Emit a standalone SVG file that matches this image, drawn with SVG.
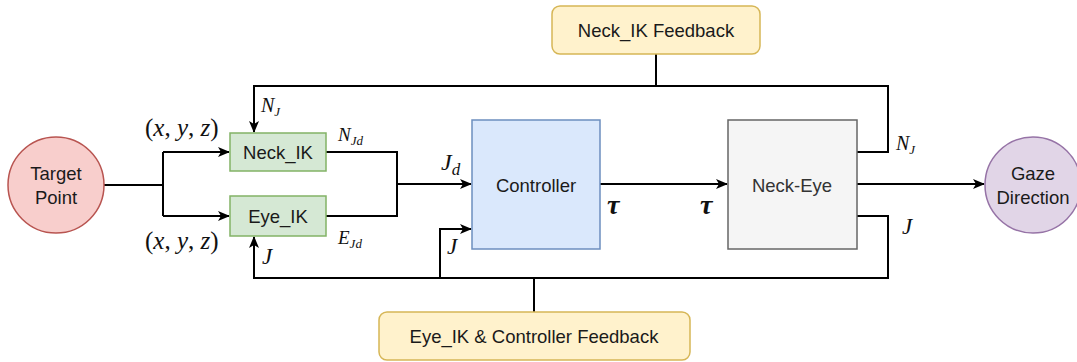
<svg xmlns="http://www.w3.org/2000/svg" width="1077" height="362" viewBox="0 0 1077 362">
  <style>
    .lbl { font-family: "Liberation Sans", Arial, sans-serif; font-size: 18.5px; fill: #1a1a1a; text-anchor: middle; dominant-baseline: central; }
    .math { font-family: "Liberation Serif", "DejaVu Serif", serif; font-style: italic; fill: #111; }
    .edge { fill: none; stroke: #000; stroke-width: 2; }
    .ik { fill: #d5e8d4; stroke: #82b366; stroke-width: 1.5; }
    .fb { fill: #fff2cc; stroke: #d6b656; stroke-width: 1.5; }
  </style>
  <defs>
    <marker id="arr" viewBox="0 0 12 10" refX="11" refY="5" markerWidth="12" markerHeight="10" markerUnits="userSpaceOnUse" orient="auto">
      <path d="M0,0 L12,5 L0,10 L3,5 Z" fill="#000"/>
    </marker>
  </defs>

  <rect width="1077" height="362" fill="#fff"/>

  <g id="connectors">
    <!-- target point fan-out -->
    <path class="edge" d="M104,185 H163"/>
    <path class="edge" d="M163,152 V216"/>
    <path class="edge" d="M163,152 H229" marker-end="url(#arr)"/>
    <path class="edge" d="M163,216 H229" marker-end="url(#arr)"/>
    <!-- IK outputs merged into controller -->
    <path class="edge" d="M326,152 H397 V216 H326"/>
    <path class="edge" d="M397,184 H471" marker-end="url(#arr)"/>
    <!-- controller to plant -->
    <path class="edge" d="M600,184 H727" marker-end="url(#arr)"/>
    <!-- plant to gaze -->
    <path class="edge" d="M857,184 H984" marker-end="url(#arr)"/>
    <!-- neck feedback loop -->
    <path class="edge" d="M857,152 H888 V86 H254 V132" marker-end="url(#arr)"/>
    <path class="edge" d="M656,54 V86"/>
    <!-- joint feedback loop -->
    <path class="edge" d="M857,216 H888 V278 H254 V237" marker-end="url(#arr)"/>
    <path class="edge" d="M440,278 V229 H471" marker-end="url(#arr)"/>
    <path class="edge" d="M534,278 V312"/>
  </g>

  <g id="target-point">
    <circle cx="56" cy="185" r="48" fill="#f8cecc" stroke="#b85450" stroke-width="1.5"/>
    <text class="lbl" x="56" y="173">Target</text>
    <text class="lbl" x="56" y="197">Point</text>
  </g>

  <g id="neck-ik">
    <rect class="ik" x="230" y="133" width="96" height="38"/>
    <text class="lbl" x="278" y="152">Neck_IK</text>
  </g>

  <g id="eye-ik">
    <rect class="ik" x="230" y="196" width="96" height="40"/>
    <text class="lbl" x="278" y="216">Eye_IK</text>
  </g>

  <g id="controller">
    <rect x="472" y="120" width="128" height="129" fill="#dae8fc" stroke="#6c8ebf" stroke-width="1.5"/>
    <text class="lbl" x="536" y="185">Controller</text>
  </g>

  <g id="neck-eye">
    <rect x="728" y="120" width="129" height="129" fill="#f5f5f5" stroke="#666666" stroke-width="1.5"/>
    <text class="lbl" x="792" y="185" style="fill:#333">Neck-Eye</text>
  </g>

  <g id="gaze-direction">
    <circle cx="1033" cy="185" r="48" fill="#e1d5e7" stroke="#9673a6" stroke-width="1.5"/>
    <text class="lbl" x="1033" y="173">Gaze</text>
    <text class="lbl" x="1033" y="197">Direction</text>
  </g>

  <g id="neck-ik-feedback">
    <rect class="fb" x="552" y="6" width="208" height="48" rx="8"/>
    <text class="lbl" x="656" y="30">Neck_IK Feedback</text>
  </g>

  <g id="eye-ik-controller-feedback">
    <rect class="fb" x="379" y="312" width="311" height="48" rx="8"/>
    <text class="lbl" x="534" y="336">Eye_IK &amp; Controller Feedback</text>
  </g>

  <g id="labels">
    <text class="math" x="145" y="136" font-size="25"><tspan font-style="normal">(</tspan>x<tspan font-style="normal">, </tspan>y<tspan font-style="normal">, </tspan>z<tspan font-style="normal">)</tspan></text>
    <text class="math" x="145" y="249" font-size="25"><tspan font-style="normal">(</tspan>x<tspan font-style="normal">, </tspan>y<tspan font-style="normal">, </tspan>z<tspan font-style="normal">)</tspan></text>
    <text class="math" x="261" y="112" font-size="20">N<tspan font-size="13" dy="4">J</tspan></text>
    <text class="math" x="262" y="264" font-size="23">J</text>
    <text class="math" x="338" y="141" font-size="19">N<tspan font-size="13" dy="4">Jd</tspan></text>
    <text class="math" x="338" y="244" font-size="19">E<tspan font-size="13" dy="4">Jd</tspan></text>
    <text class="math" x="441" y="170" font-size="24">J<tspan font-size="17" dy="5">d</tspan></text>
    <text class="math" x="447" y="254" font-size="23">J</text>
    <text class="math" x="607" y="214" font-size="28" font-weight="bold">τ</text>
    <text class="math" x="700" y="214" font-size="28" font-weight="bold">τ</text>
    <text class="math" x="896" y="150" font-size="20">N<tspan font-size="13" dy="4">J</tspan></text>
    <text class="math" x="902" y="234" font-size="23">J</text>
  </g>
</svg>
